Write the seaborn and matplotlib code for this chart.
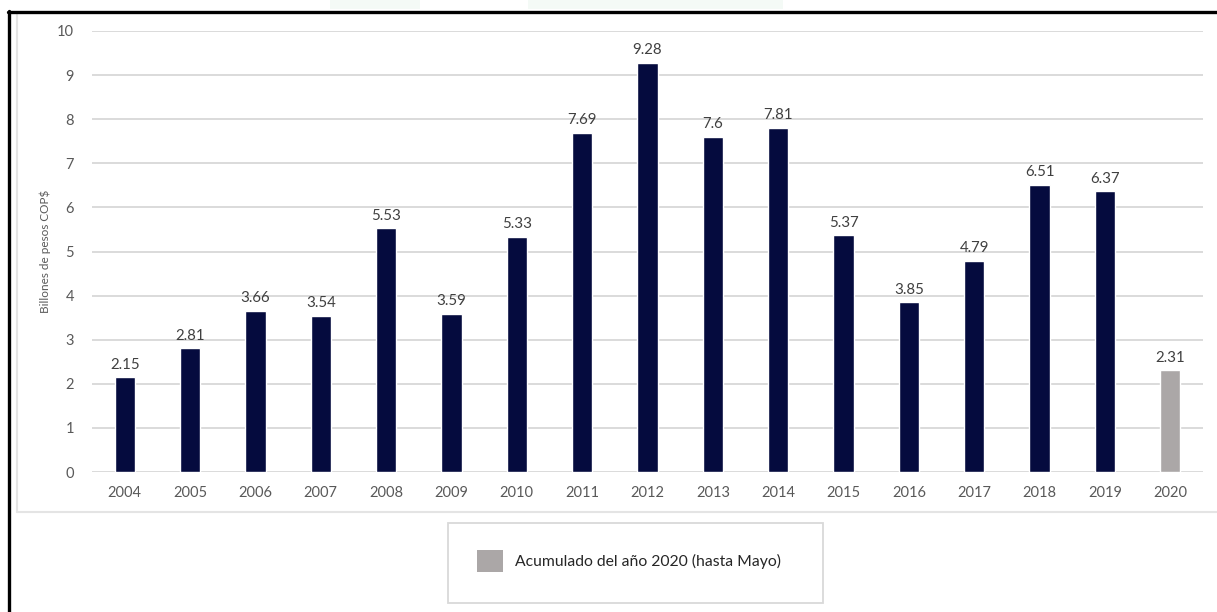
import matplotlib
matplotlib.use("Agg")
import matplotlib.pyplot as plt
from matplotlib.patches import Rectangle, Patch
from matplotlib.lines import Line2D
import seaborn as sns
import pandas as pd

years = ["2004", "2005", "2006", "2007", "2008", "2009", "2010", "2011", "2012",
         "2013", "2014", "2015", "2016", "2017", "2018", "2019", "2020"]
values = [2.15, 2.81, 3.66, 3.54, 5.53, 3.59, 5.33, 7.69, 9.28,
          7.6, 7.81, 5.37, 3.85, 4.79, 6.51, 6.37, 2.31]
labels = ["2.15", "2.81", "3.66", "3.54", "5.53", "3.59", "5.33", "7.69", "9.28",
          "7.6", "7.81", "5.37", "3.85", "4.79", "6.51", "6.37", "2.31"]
kinds = ["Anual"] * 16 + ["Acumulado del año 2020 (hasta Mayo)"]
y_label = "Billones de pesos COP$"

NAVY = "#050b3e"
GREY = "#aba7a7"

sns.set_theme(style="white")
plt.rcParams["font.family"] = ["Lato", "DejaVu Sans"]

W, H = 1217, 612
fig = plt.figure(figsize=(W / 100, H / 100), dpi=100)
fig.patch.set_facecolor("white")

ax = fig.add_axes([92 / W, (H - 472) / H, 1111 / W, 441 / H])

df = pd.DataFrame({"year": years, "value": values, "kind": kinds})
sns.barplot(data=df, x="year", y="value", hue="kind",
            palette={"Anual": NAVY, "Acumulado del año 2020 (hasta Mayo)": GREY},
            dodge=False, width=0.31, legend=False, ax=ax, saturation=1)

for cont in ax.containers:
    n = len(cont)
    if n == 16:
        ax.bar_label(cont, labels=labels[:16], padding=4, fontsize=10.8, color="#404040")
    else:
        ax.bar_label(cont, labels=labels[16:], padding=4, fontsize=10.8, color="#404040")

ax.set_ylim(0, 10)
ax.set_xlim(-0.5, 16.5)
ax.set_yticks(range(0, 11))
ax.yaxis.grid(True, color="#dadada", linewidth=1.4)
ax.set_axisbelow(True)
for s in ax.spines.values():
    s.set_visible(False)
ax.tick_params(axis="both", length=0, labelsize=10.5, labelcolor="#595959")
ax.tick_params(axis="y", pad=13)
ax.tick_params(axis="x", pad=10)
ax.set_xlabel("")
ax.set_ylabel(y_label, fontsize=8.5, color="#595959")
ax.yaxis.set_label_coords(-0.037, 0.5)

# chart area border (light grey) and outer black frame
fig.add_artist(Line2D([17 / W, 17 / W], [1 - 14 / H, 1 - 512 / H], color="#e4e4e4", lw=1.5))
fig.add_artist(Line2D([17 / W, 1.0], [1 - 512 / H, 1 - 512 / H], color="#e4e4e4", lw=1.5))
fig.add_artist(Line2D([9 / W, 9 / W], [0, 1 - 11 / H], color="black", lw=2.4))
fig.add_artist(Line2D([8 / W, 1.0], [1 - 11.5 / H, 1 - 11.5 / H], color="black", lw=2.4))

# faint header tint above the frame
fig.add_artist(Rectangle((330 / W, 1 - 9 / H), 90 / W, 9 / H, color="#f4faf6", lw=0))
fig.add_artist(Rectangle((528 / W, 1 - 9 / H), 255 / W, 9 / H, color="#f4faf6", lw=0))

# legend box
fig.add_artist(Rectangle((448 / W, 1 - 603 / H), 375 / W, 80 / H,
                         facecolor="white", edgecolor="#d9d9d9", lw=1.3))
handle = Patch(facecolor=GREY, edgecolor="none")
fig.legend([handle], [kinds[-1]], loc="center left",
           bbox_to_anchor=(477 / W, 1 - 561 / H), frameon=False,
           fontsize=11.3, labelcolor="#262626", handlelength=1.65,
           handleheight=1.75, handletextpad=0.8, borderpad=0, borderaxespad=0)

fig.savefig("out.png", dpi=100)
